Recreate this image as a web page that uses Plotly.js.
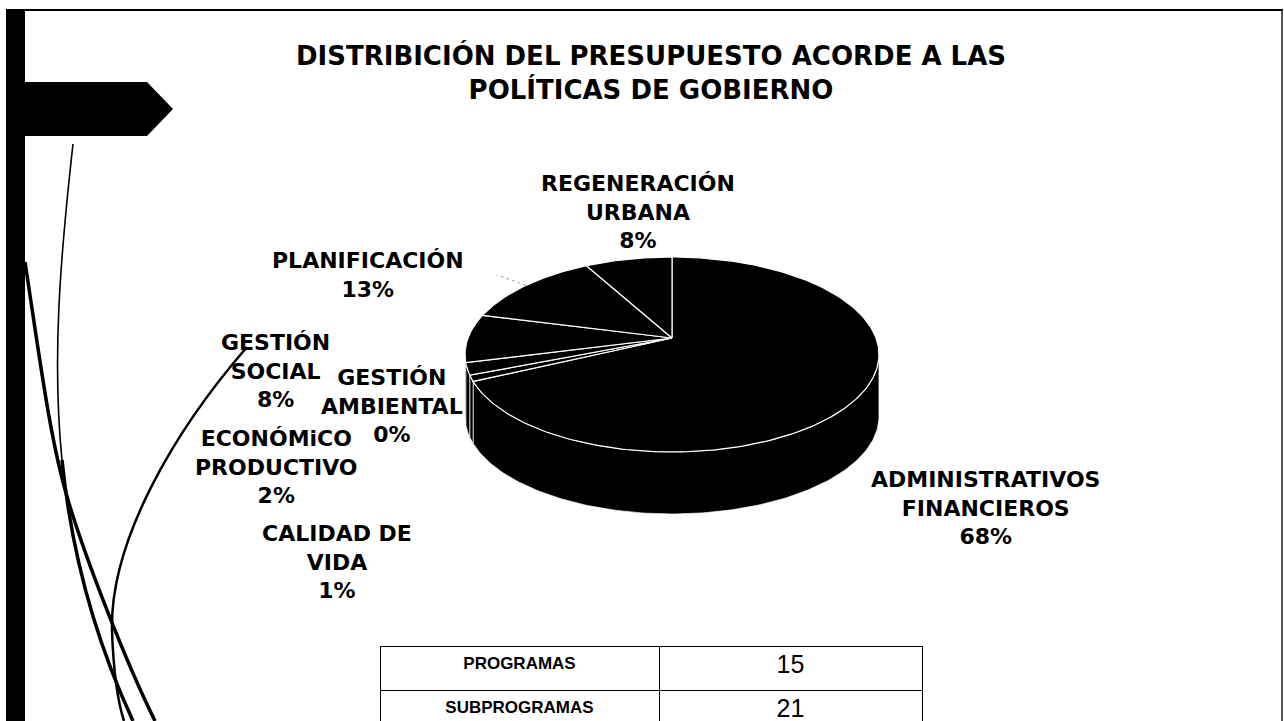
<!DOCTYPE html>
<html><head><meta charset="utf-8">
<script src="https://cdn.plot.ly/plotly-3.0.1.min.js"></script>
<style>html,body{margin:0;padding:0;background:#fff;}#chart{width:1284px;height:721px;}</style>
</head><body><div id="chart"></div>
<script>
// ---- data ----
const categories = ["ADMINISTRATIVOS FINANCIEROS","CALIDAD DE VIDA","ECONÓMiCO PRODUCTIVO","GESTIÓN AMBIENTAL","GESTIÓN SOCIAL","PLANIFICACIÓN","REGENERACIÓN URBANA"];
const labelLines = ["ADMINISTRATIVOS<br>FINANCIEROS","CALIDAD DE<br>VIDA","ECONÓMiCO<br>PRODUCTIVO","GESTIÓN<br>AMBIENTAL","GESTIÓN<br>SOCIAL","PLANIFICACIÓN","REGENERACIÓN<br>URBANA"];
const shares = [68,1,2,0,8,13,8];
const tableRows = ["PROGRAMAS","SUBPROGRAMAS"];
const tableCounts = [15,21];
const titleText = "DISTRIBICIÓN DEL PRESUPUESTO ACORDE A LAS<br>POLÍTICAS DE GOBIERNO";

// ---- layout constants (positions/styles) ----
const W = 1284, H = 721;
const labelPos = [[985,508],[337,562],[276,467],[392,406],[275,371],[368,275],[638,212]];
const cx = 672, cy = 338, rx = 204, ry = 94.7, k = 0.169, depth = 62;

function proj(tDeg, h) {
  const t = tDeg * Math.PI / 180;
  const s = 1 / (1 + k * Math.cos(t));
  return [cx + rx * Math.sin(t) * s, cy - ry * Math.cos(t) * s + h];
}
function arc(a, b, h) {
  const pts = [];
  const n = Math.max(2, Math.ceil(Math.abs(b - a)));
  for (let i = 0; i <= n; i++) pts.push(proj(a + (b - a) * i / n, h));
  return pts;
}

const total = shares.reduce((s, v) => s + v, 0);
const spans = [];
let acc = 0;
shares.forEach(v => { spans.push([acc / total * 360, (acc + v) / total * 360]); acc += v; });

const traces = [];
// visible side (front) of the 3D pie
const tFrontA = Math.acos(-k) * 180 / Math.PI, tFrontB = 360 - tFrontA;
spans.forEach(([a, b], i) => {
  const a2 = Math.max(a, tFrontA), b2 = Math.min(b, tFrontB);
  if (b2 <= a2) return;
  const top = arc(a2, b2, 0), bot = arc(b2, a2, depth);
  const pts = top.concat(bot);
  pts.push(pts[0]);
  traces.push({type:'scatter', mode:'lines', x: pts.map(p => p[0]), y: pts.map(p => p[1]),
    fill:'toself', fillcolor:'#000', line:{color:'#fff', width:0.7}, hoverinfo:'skip', name: categories[i]});
});
// top face slices
spans.forEach(([a, b], i) => {
  if (b - a <= 0) return;
  const pts = [[cx, cy]].concat(arc(a, b, 0));
  pts.push([cx, cy]);
  traces.push({type:'scatter', mode:'lines', x: pts.map(p => p[0]), y: pts.map(p => p[1]),
    fill:'toself', fillcolor:'#000', line:{color:'#fff', width:1.2}, hoverinfo:'skip', name: categories[i]});
});
// leader line for PLANIFICACIÓN
{
  const i = categories.indexOf("PLANIFICACIÓN");
  const mid = (spans[i][0] + spans[i][1]) / 2;
  const p = proj(mid, 0);
  const q = [cx + (p[0] - cx) * 1.2, cy + (p[1] - cy) * 1.2];
  traces.push({type:'scatter', mode:'lines', x:[p[0], q[0]], y:[p[1], q[1]],
    line:{color:'#999', width:1, dash:'dot'}, hoverinfo:'skip'});
}
// table
traces.push({
  type:'table',
  domain:{x:[380 / W, 922 / W], y:[0, (H - 646) / H]},
  columnwidth:[279, 263],
  header:{values:[["<b>" + tableRows[0] + "</b>"], [String(tableCounts[0])]],
    height:44, align:'center', line:{color:'#000', width:1}, fill:{color:'#fff'},
    font:{family:['Liberation Sans','Liberation Sans'], size:[17, 25], color:'#000'}},
  cells:{values:[["<b>" + tableRows[1] + "</b>"], [String(tableCounts[1])]],
    height:31, align:'center', line:{color:'#000', width:1}, fill:{color:'#fff'},
    font:{family:['Liberation Sans','Liberation Sans'], size:[17, 25], color:'#000'}}
});

const annotations = labelLines.map((t, i) => ({
  x: labelPos[i][0], y: labelPos[i][1], xref:'x', yref:'y', showarrow:false,
  xanchor:'center', yanchor:'middle', align:'center',
  text: '<b>' + t + '<br>' + shares[i] + '%</b>',
  font:{family:'DejaVu Sans', size:22, color:'#000'}
}));

const shapes = [
  {type:'rect', xref:'x', yref:'y', x0:6, x1:25, y0:9, y1:H, fillcolor:'#000', line:{width:0}, layer:'below'},
  {type:'path', xref:'x', yref:'y', path:'M25,82 L147,82 L173,109 L147,136 L25,136 Z', fillcolor:'#000', line:{width:0}, layer:'below'},
  {type:'line', xref:'x', yref:'y', x0:25, x1:1283, y0:10, y1:10, line:{color:'#000', width:2}, layer:'below'},
  {type:'line', xref:'x', yref:'y', x0:1282, x1:1282, y0:10, y1:H, line:{color:'#222', width:1.5}, layer:'below'},
  {type:'path', xref:'x', yref:'y', path:'M73,144 C60,260 52,360 62,460', line:{color:'#000', width:1.6}, layer:'below'},
  {type:'path', xref:'x', yref:'y', path:'M62,460 C72,560 100,650 133,721', line:{color:'#000', width:3.5}, layer:'below'},
  {type:'path', xref:'x', yref:'y', path:'M25,262 C40,360 50,440 68,500 S125,660 155,721', line:{color:'#000', width:3.5}, layer:'below'},
  {type:'path', xref:'x', yref:'y', path:'M247,347 C175,430 110,540 112,630 Q114,690 124,721', line:{color:'#000', width:2.5}, layer:'below'}
];

const layout = {
  width: W, height: H, margin:{l:0, r:0, t:0, b:0},
  paper_bgcolor:'#fff', plot_bgcolor:'#fff', showlegend:false,
  xaxis:{range:[0, W], visible:false, fixedrange:true},
  yaxis:{range:[H, 0], visible:false, fixedrange:true},
  title:{text:'<b>' + titleText + '</b>', x:651 / W, xanchor:'center', xref:'paper',
    y:1 - 65 / H, yanchor:'top', yref:'container',
    font:{family:'DejaVu Sans', size:26, color:'#000'}},
  annotations, shapes
};
Plotly.newPlot('chart', traces, layout, {displayModeBar:false, staticPlot:true});
</script></body></html>
